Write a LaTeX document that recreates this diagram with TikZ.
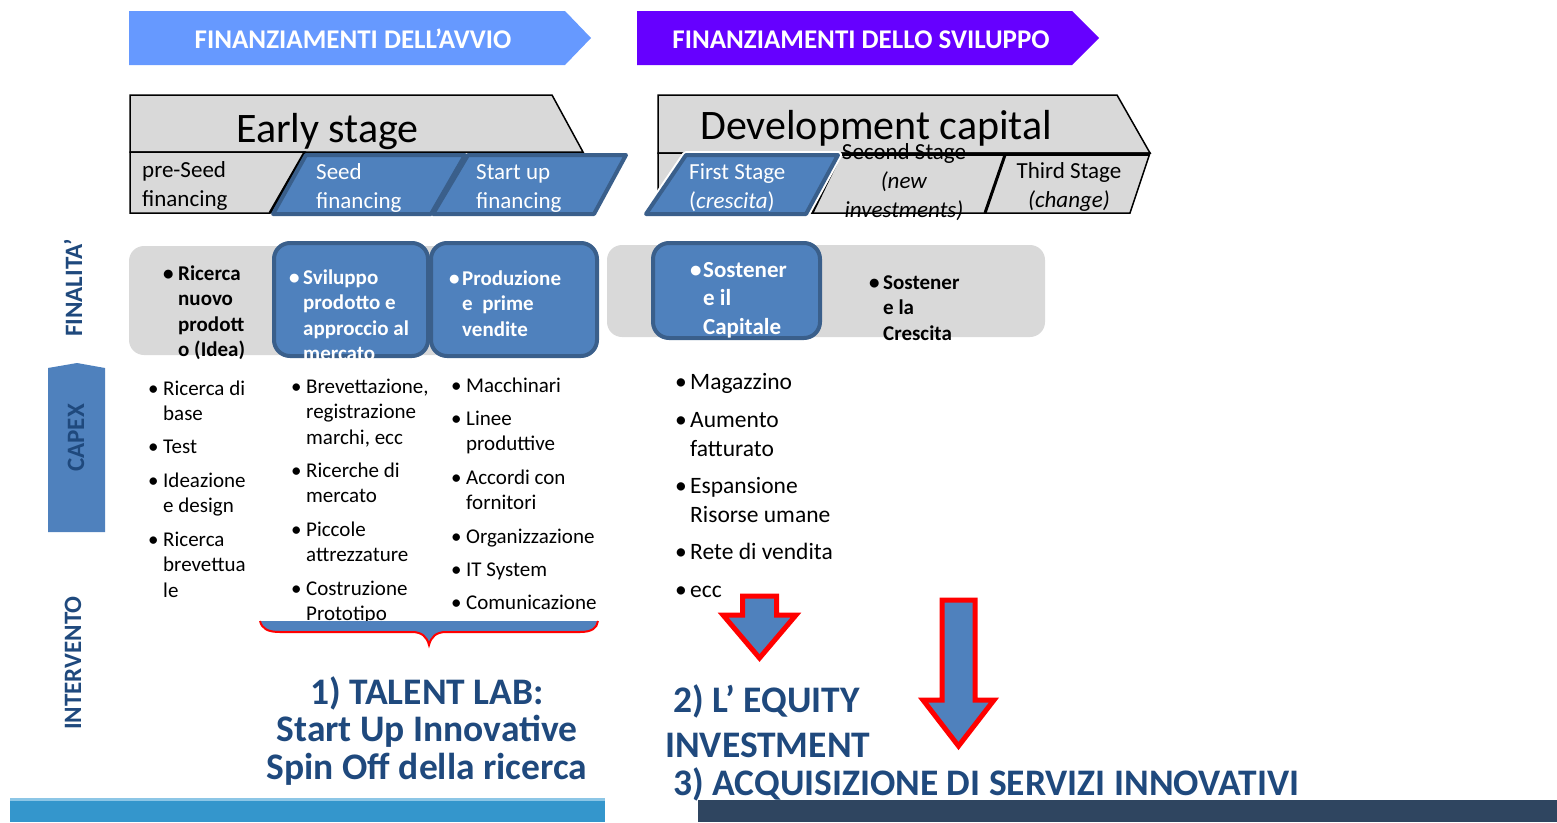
\documentclass[tikz,border=0pt]{standalone}
\usepackage{fontspec}
\setmainfont{Carlito}
\definecolor{bannerA}{HTML}{6699FF}
\definecolor{bannerB}{HTML}{6600FF}
\definecolor{boxblue}{HTML}{4F81BD}
\definecolor{boxedge}{HTML}{3A5F8B}
\definecolor{lgray}{HTML}{D9D9D9}
\definecolor{navy}{HTML}{1F497D}
\definecolor{barA}{HTML}{3496CC}
\definecolor{barAtop}{HTML}{8CC6E6}
\definecolor{barB}{HTML}{2F4560}
\newcommand{\fsBanner}{\fontsize{27}{30}\selectfont}
\newcommand{\fsTitle}{\fontsize{42}{46}\selectfont}
\newcommand{\fsHead}{\fontsize{23}{29}\selectfont}
\newcommand{\fsFin}{\fontsize{21}{25.5}\selectfont}
\newcommand{\fsFinB}{\fontsize{23}{28.5}\selectfont}
\newcommand{\fsList}{\fontsize{21}{25.5}\selectfont}
\newcommand{\fsListB}{\fontsize{23.5}{29}\selectfont}
\newcommand{\fsBig}{\fontsize{37.5}{37.5}\selectfont}
\newcommand{\fsSide}{\fontsize{25}{30}\selectfont}
\newcommand{\mlines}[1]{\begin{tabular}[t]{@{}l@{}}#1\end{tabular}}
\newcommand{\clines}[1]{\begin{tabular}[t]{@{}c@{}}#1\end{tabular}}
\newcommand{\bitem}[2]{\makebox[#1][l]{•}\mlines{#2}}
\tikzset{
  txt/.style={inner sep=0pt, anchor=base west, align=left},
  ctxt/.style={inner sep=0pt, anchor=base},
  bbox/.style={fill=boxblue, draw=boxedge, line width=4pt, rounded corners=16pt},
  para/.style={fill=boxblue, draw=boxedge, line width=4pt, line join=round},
  grayshape/.style={fill=lgray, draw=black, line width=1.5pt},
  arr/.style={fill=boxblue, draw=red, line width=5pt, line join=miter},
  side/.style={rotate=90, inner sep=0pt, font=\fsSide\bfseries, text=navy},
  banner/.style={ctxt, font=\fsBanner\bfseries, text=white},
  listA/.style={txt, font=\fsList},
  listB/.style={txt, font=\fsListB},
  big/.style={inner sep=0pt, font=\fsBig\bfseries, text=navy},
}
\begin{document}
\begin{tikzpicture}[x=1pt,y=-1pt]
\useasboundingbox (0,0) rectangle (1557,822);

% bottom bars
\fill[barA] (10,800) rectangle (605,822);
\fill[barAtop] (10,798) rectangle (605,801);
\fill[barB] (698,800) rectangle (1557,822);

% banners
\fill[bannerA] (129,11) -- (565,11) -- (591,38) -- (565,65) -- (129,65) -- cycle;
\node[banner] (ban1) at (353,48) {FINANZIAMENTI DELL’AVVIO};
\fill[bannerB] (637,11) -- (1072,11) -- (1099,38) -- (1072,65) -- (637,65) -- cycle;
\node[banner] (ban2) at (861,48) {FINANZIAMENTI DELLO SVILUPPO};

% Early stage
\draw[grayshape] (130,95) -- (552,95) -- (583,152) -- (130,152) -- cycle;
\draw[grayshape] (130,152) -- (305,152) -- (270,213) -- (130,213) -- cycle;
\draw[line width=3pt] (305,152) -- (270,213);
\node[txt, font=\fsTitle] (es) at (236,142) {Early stage};
\node[txt, font=\fsHead] (pre) at (142,177) {\mlines{pre-Seed\\financing}};
\draw[para] (306,155) -- (465,155) -- (431,214) -- (273,214) -- cycle;
\node[txt, font=\fsHead, text=white] (seed) at (316,179) {\mlines{Seed\\financing}};
\draw[para] (468,155) -- (626,155) -- (594,214) -- (433,214) -- cycle;
\node[txt, font=\fsHead, text=white] (start) at (476,179) {\mlines{Start up\\financing}};

% Development capital
\draw[grayshape] (658,95) -- (1117,95) -- (1150,153) -- (658,153) -- cycle;
\draw[grayshape] (658,153) -- (1150,153) -- (1130,213) -- (658,213) -- cycle;
\draw[line width=3pt] (830,154) -- (1150,154);
\draw[line width=3pt] (840,155) -- (812,213);
\draw[line width=3pt] (1005,155) -- (985,213);
\node[txt, font=\fsTitle] (dc) at (700,139) {Development capital};
\draw[white, line width=8pt, line join=round] (686,155) -- (838,155) -- (806,214) -- (646,214) -- cycle;
\draw[para] (686,155) -- (838,155) -- (806,214) -- (646,214) -- cycle;
\node[txt, font=\fsHead, text=white] (first) at (689,179) {\mlines{First Stage\\(\textit{crescita})}};
\node[ctxt, font=\fsHead] (second) at (904,159) {\clines{Second Stage\\\textit{(new}\\\textit{investments)}}};
\node[ctxt, font=\fsHead] (third) at (1069,178) {\clines{Third Stage\\\textit{(change)}}};

% side labels
\node[side] (fin) at (73,288) {FINALITA’};
\fill[boxblue] (48,368) -- (77,363) -- (105,368) -- (105,532) -- (48,532) -- cycle;
\node[side] (capex) at (76,438) {CAPEX};
\node[side] (interv) at (73,663) {INTERVENTO};

% Finalita row
\fill[lgray, rounded corners=15pt] (129,246) rectangle (598,355);
\fill[lgray, rounded corners=15pt] (607,245) rectangle (1045,337);
\node[txt, font=\fsFin\bfseries] (f1) at (163,280) {\bitem{15pt}{Ricerca\\nuovo\\prodott\\o (Idea)}};
\draw[bbox] (274,243) rectangle (428,356);
\node[txt, font=\fsFin\bfseries, text=white] (f2) at (289,284) {\bitem{14pt}{Sviluppo\\prodotto e\\approccio al\\mercato}};
\draw[bbox] (431,243) rectangle (597,356);
\node[txt, font=\fsFin\bfseries, text=white] (f3) at (449,285) {\bitem{13pt}{Produzione\\e~ prime\\vendite}};
\draw[bbox] (653,243) rectangle (820,338);
\node[txt, font=\fsFinB\bfseries, text=white] (f4) at (690,277) {\bitem{13pt}{Sostener\\e il\\Capitale}};
\node[txt, font=\fsFin\bfseries] (f5) at (869,289) {\bitem{14pt}{Sostener\\e la\\Crescita}};

% CAPEX column 1
\node[listA] (a1) at (148,395) {\bitem{15pt}{Ricerca di\\base}};
\node[listA] (a2) at (148,453) {\bitem{15pt}{Test}};
\node[listA] (a3) at (148,487) {\bitem{15pt}{Ideazione\\e design}};
\node[listA] (a4) at (148,546) {\bitem{15pt}{Ricerca\\brevettua\\le}};
% column 2
\node[listA] (b1) at (291,393) {\bitem{15pt}{Brevettazione,\\registrazione\\marchi, ecc}};
\node[listA] (b2) at (291,477) {\bitem{15pt}{Ricerche di\\mercato}};
\node[listA] (b3) at (291,536) {\bitem{15pt}{Piccole\\attrezzature}};
\node[listA] (b4) at (291,595) {\bitem{15pt}{Costruzione\\Prototipo}};
% column 3
\node[listA] (c1) at (451,392) {\bitem{15pt}{Macchinari}};
\node[listA] (c2) at (451,425) {\bitem{15pt}{Linee\\produttive}};
\node[listA] (c3) at (451,484) {\bitem{15pt}{Accordi con\\fornitori}};
\node[listA] (c4) at (451,543) {\bitem{15pt}{Organizzazione}};
\node[listA] (c5) at (451,576) {\bitem{15pt}{IT System}};
\node[listA] (c6) at (451,609) {\bitem{15pt}{Comunicazione}};
% column 4
\node[listB] (d1) at (675,389) {\bitem{15pt}{Magazzino}};
\node[listB] (d2) at (675,427) {\bitem{15pt}{Aumento\\fatturato}};
\node[listB] (d3) at (675,493) {\bitem{15pt}{Espansione\\Risorse umane}};
\node[listB] (d4) at (675,559) {\bitem{15pt}{Rete di vendita}};
\node[listB] (d5) at (675,597) {\bitem{15pt}{ecc}};

% brace
\fill[boxblue] (260,621) .. controls (262,629) and (268,632) .. (280,632) -- (412,632) .. controls (422,632) and (427,637) .. (429,645) .. controls (431,637) and (436,632) .. (446,632) -- (580,632) .. controls (592,632) and (597,628) .. (598,621) -- cycle;
\draw[red, line width=2pt] (260,621) .. controls (262,629) and (268,632) .. (280,632) -- (412,632) .. controls (422,632) and (427,637) .. (429,645) .. controls (431,637) and (436,632) .. (446,632) -- (580,632) .. controls (592,632) and (597,628) .. (598,621);

% arrows
\draw[arr] (742.5,596) -- (776.5,596) -- (776.5,615) -- (796,615) -- (759.5,658) -- (723,615) -- (742.5,615) -- cycle;
\draw[arr] (942,600) -- (975,600) -- (975,700) -- (994,700) -- (958.5,746) -- (923,700) -- (942,700) -- cycle;

% bottom texts
\node[big, anchor=base] (t1) at (427,704) {\clines{1) TALENT LAB:\\Start Up Innovative\\Spin Off della ricerca}};
\node[big, anchor=base west] (t2) at (673,712) {2) L’ EQUITY};
\node[big, anchor=base west] (t3) at (665,757) {INVESTMENT};
\node[big, anchor=base west] (t4) at (673,795) {3) ACQUISIZIONE DI SERVIZI INNOVATIVI};
\end{tikzpicture}
\end{document}
